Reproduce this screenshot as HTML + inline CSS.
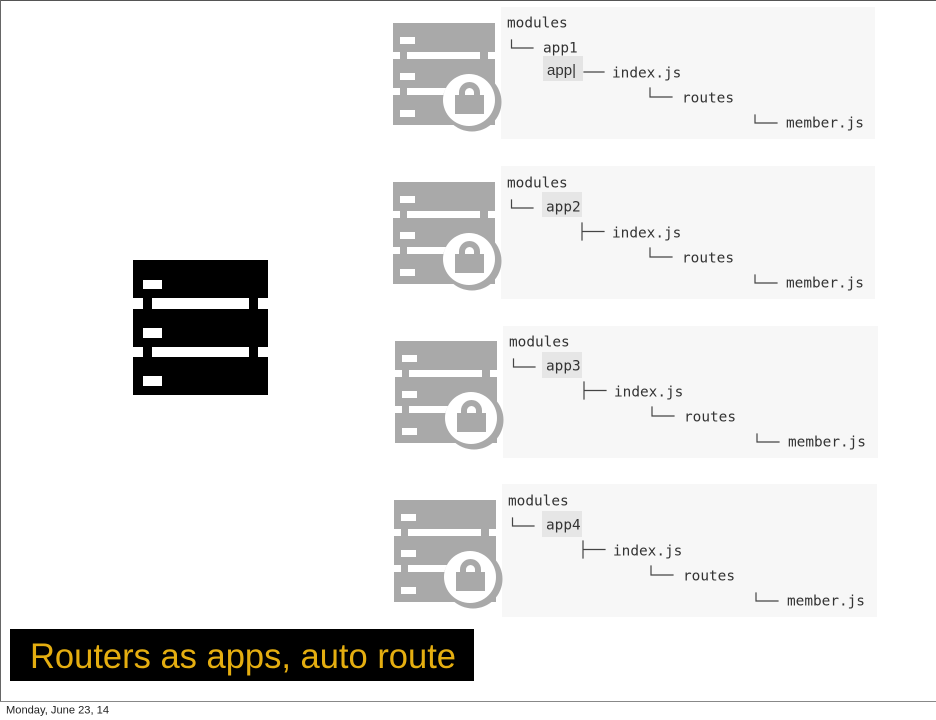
<!DOCTYPE html>
<html><head><meta charset="utf-8"><style>
html,body{margin:0;padding:0;background:#fff;width:936px;height:720px;overflow:hidden}
svg{display:block}
.m{font-family:"DejaVu Sans Mono","Liberation Mono",monospace;font-size:14.4px;fill:#333}
.c{stroke:#444;stroke-width:1.2;fill:none;stroke-linecap:square}
</style></head><body>
<svg width="936" height="720" viewBox="0 0 936 720" xmlns="http://www.w3.org/2000/svg">
<defs>
<g id="ic">
<rect x="393" y="23" width="102" height="102" fill="#a9a9a9"/>
<rect x="393" y="52" width="7" height="7" fill="#fff"/><rect x="488" y="52" width="7" height="7" fill="#fff"/>
<rect x="407" y="52" width="73" height="7" fill="#fff"/>
<rect x="393" y="88" width="7" height="7" fill="#fff"/>
<rect x="407" y="88" width="73" height="7" fill="#fff"/>
<rect x="400" y="37" width="15" height="7" fill="#fff"/>
<rect x="400" y="73" width="15" height="7" fill="#fff"/>
<rect x="400" y="110" width="15" height="7" fill="#fff"/>
<circle cx="472" cy="102" r="29.5" fill="#a9a9a9"/>
<circle cx="469" cy="100" r="26" fill="#fff"/>
<rect x="455" y="95" width="29" height="19" fill="#a9a9a9"/>
<path d="M462 97V92.500a7.500 7.500 0 0 1 15 0V97" fill="none" stroke="#a9a9a9" stroke-width="6"/>
</g>
<g id="tr">
<path class="c" d="M650 88V97H672"/>
<path class="c" d="M755 115V123H777"/>
<path class="c" d="M511.500 40V48H533"/>
<text class="m" x="507" y="27.500">modules</text>
<text class="m" x="612" y="77.500">index.js</text>
<text class="m" x="682" y="102.500">routes</text>
<text class="m" x="786" y="127.500">member.js</text>
</g>
</defs>

<rect x="0" y="0" width="936" height="1" fill="#555"/>
<rect x="0" y="0" width="1" height="702" fill="#666"/>
<rect x="0" y="701" width="936" height="1" fill="#888"/>

<!-- black server -->
<rect x="133" y="260" width="135" height="135" fill="#000"/>
<g fill="#fff">
<rect x="133" y="298" width="10" height="11"/><rect x="258" y="298" width="10" height="11"/><rect x="152" y="298" width="97" height="11"/>
<rect x="133" y="347" width="10" height="10"/><rect x="258" y="347" width="10" height="10"/><rect x="152" y="347" width="97" height="10"/>
<rect x="143" y="280" width="19" height="9"/><rect x="143" y="328" width="19" height="10"/><rect x="143" y="376" width="19" height="10"/>
</g>

<!-- panels -->
<rect x="501" y="7" width="374" height="132" fill="#f7f7f7"/>
<rect x="501" y="166" width="374" height="133" fill="#f7f7f7"/>
<rect x="503" y="326" width="375" height="132" fill="#f7f7f7"/>
<rect x="502" y="484" width="375" height="133" fill="#f7f7f7"/>

<use href="#ic"/>
<use href="#ic" y="159"/>
<use href="#ic" x="2" y="318"/>
<use href="#ic" x="1" y="477"/>

<!-- row 1 -->
<rect x="543" y="56" width="40" height="25" fill="#e4e4e4"/>
<use href="#tr"/>
<text class="m" x="543" y="52.500">app1</text>
<text x="547" y="75" font-family="'Liberation Sans',sans-serif" font-size="15" fill="#333" textLength="29" lengthAdjust="spacingAndGlyphs">app|</text>
<line class="c" x1="584" y1="72" x2="604" y2="72"/>

<!-- row 2 -->
<rect x="542" y="192" width="40" height="25" fill="#e6e6e6"/>
<use href="#tr" y="160"/>
<text class="m" x="546" y="211.500">app2</text>
<path class="c" d="M582 223V240M582 231.500H604"/>

<!-- row 3 -->
<rect x="542" y="352" width="40" height="26" fill="#e6e6e6"/>
<use href="#tr" x="2" y="319"/>
<text class="m" x="546" y="370.500">app3</text>
<path class="c" d="M584 382V399M584 390.500H606"/>

<!-- row 4 -->
<rect x="542" y="511" width="40" height="26" fill="#e6e6e6"/>
<use href="#tr" x="1" y="478"/>
<text class="m" x="546" y="529.500">app4</text>
<path class="c" d="M583 541V558M583 549.500H605"/>

<!-- title -->
<rect x="10" y="629" width="464" height="52" fill="#000"/>
<text x="30" y="668" font-family="'Liberation Sans',sans-serif" font-size="35" fill="#e5ae10" textLength="426" lengthAdjust="spacingAndGlyphs">Routers as apps, auto route</text>

<text x="6" y="713.500" font-family="'Liberation Sans',sans-serif" font-size="11" fill="#222" textLength="103" lengthAdjust="spacingAndGlyphs">Monday, June 23, 14</text>
</svg>
</body></html>
